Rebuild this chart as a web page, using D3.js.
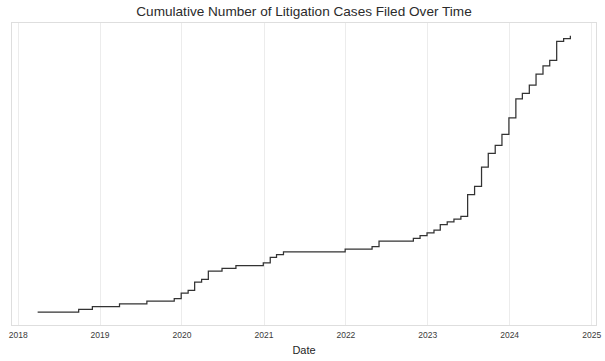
<!DOCTYPE html>
<html>
<head>
<meta charset="utf-8">
<script src="https://cdn.jsdelivr.net/npm/d3@7"></script>
<style>
  html, body { margin: 0; padding: 0; background: #fff; }
  svg { display: block; font-family: "Liberation Sans", Arial, sans-serif; }
</style>
</head>
<body>
<svg id="chart" width="605" height="361"></svg>
<script>
// Months (month-end) where the cumulative count changes, and the cumulative count
const months = [
  "2018-03", "2018-09", "2018-11", "2019-03", "2019-07", "2019-11", "2019-12",
  "2020-01", "2020-02", "2020-03", "2020-04", "2020-06", "2020-08", "2020-12",
  "2021-01", "2021-02", "2021-03", "2021-12", "2022-04", "2022-05", "2022-10",
  "2022-11", "2022-12", "2023-01", "2023-02", "2023-03", "2023-04", "2023-05",
  "2023-06", "2023-07", "2023-08", "2023-09", "2023-10", "2023-11", "2023-12",
  "2024-01", "2024-02", "2024-03", "2024-04", "2024-05", "2024-06", "2024-07",
  "2024-08", "2024-09"
];
const cumulativeCases = [
  1, 2, 3, 4, 5, 6, 8,
  9, 12, 13, 16, 17, 18, 19,
  21, 22, 23, 24, 25, 27, 28,
  29, 30, 31, 33, 34, 35, 36,
  44, 47, 54, 59, 62, 66, 72,
  79, 81, 84, 88, 91, 93, 100,
  101, 102
];
const yearTicks = [2018, 2019, 2020, 2021, 2022, 2023, 2024, 2025];
const titleText = "Cumulative Number of Litigation Cases Filed Over Time";
const xLabel = "Date";

const svg = d3.select("#chart");
const plot = { left: 11, right: 597, top: 22, bottom: 326 };

// month-end dates
const parseMonth = d3.timeParse("%Y-%m");
const data = months.map((m, i) => {
  const d = parseMonth(m);
  const end = new Date(d.getFullYear(), d.getMonth() + 1, 0);
  return { date: end, value: cumulativeCases[i] };
});

const xExt = d3.extent(data, d => d.date);
const span = xExt[1] - xExt[0];
const x = d3.scaleTime()
  .domain([new Date(+xExt[0] - span * 0.05), new Date(+xExt[1] + span * 0.05)])
  .range([plot.left, plot.right]);

const yExt = d3.extent(data, d => d.value);
const ySpan = yExt[1] - yExt[0];
const y = d3.scaleLinear()
  .domain([yExt[0] - ySpan * 0.05, yExt[1] + ySpan * 0.05])
  .range([plot.bottom, plot.top]);

// Title
svg.append("text")
  .attr("x", (plot.left + plot.right) / 2)
  .attr("y", 16)
  .attr("text-anchor", "middle")
  .attr("font-size", 13.6)
  .attr("fill", "#2b2b2b")
  .text(titleText);

// Gridlines (vertical, per year)
const tickDates = yearTicks.map(yr => new Date(yr, 0, 1));
svg.append("g")
  .selectAll("line")
  .data(tickDates)
  .join("line")
  .attr("x1", d => Math.round(x(d)) + 0.5)
  .attr("x2", d => Math.round(x(d)) + 0.5)
  .attr("y1", plot.top)
  .attr("y2", plot.bottom)
  .attr("stroke", "#ececec")
  .attr("stroke-width", 1);

// Frame
svg.append("rect")
  .attr("x", plot.left + 0.5)
  .attr("y", plot.top + 0.5)
  .attr("width", plot.right - plot.left - 1)
  .attr("height", plot.bottom - plot.top - 1)
  .attr("fill", "none")
  .attr("stroke", "#dedede")
  .attr("stroke-width", 1);

// X axis (labels only)
const xAxis = d3.axisBottom(x)
  .tickValues(tickDates)
  .tickFormat(d3.timeFormat("%Y"))
  .tickSize(0)
  .tickPadding(6);
const gx = svg.append("g")
  .attr("transform", `translate(0,${plot.bottom})`)
  .call(xAxis);
gx.select(".domain").remove();
gx.selectAll("text")
  .attr("font-size", 8.5)
  .attr("font-family", "'Liberation Sans', Arial, sans-serif")
  .attr("fill", "#3a3a3a");

// X label
svg.append("text")
  .attr("x", (plot.left + plot.right) / 2)
  .attr("y", 354)
  .attr("text-anchor", "middle")
  .attr("font-size", 11)
  .attr("fill", "#262626")
  .text(xLabel);

// Step line
const line = d3.line()
  .x(d => x(d.date))
  .y(d => y(d.value))
  .curve(d3.curveStepAfter);

svg.append("path")
  .datum(data)
  .attr("d", line)
  .attr("fill", "none")
  .attr("stroke", "#333333")
  .attr("stroke-width", 1.25);
</script>
</body>
</html>
